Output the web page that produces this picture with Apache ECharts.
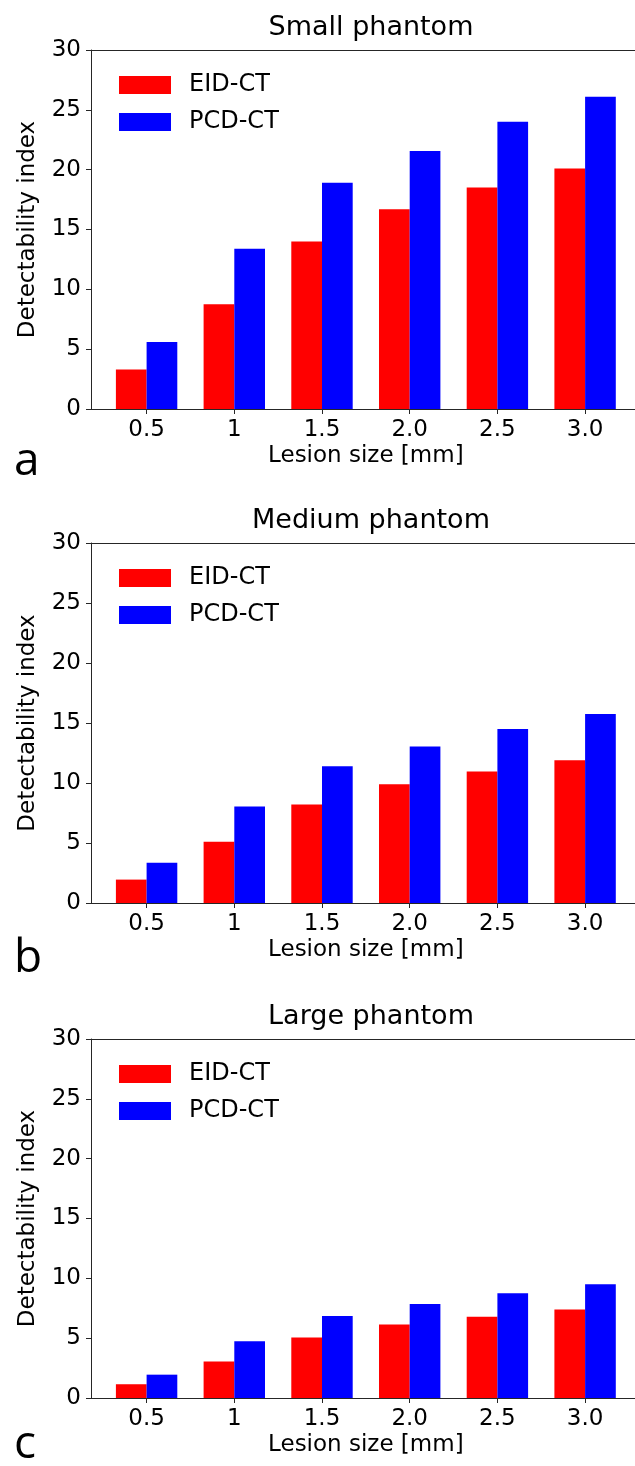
<!DOCTYPE html>
<html>
<head>
<meta charset="utf-8">
<script src="https://cdn.jsdelivr.net/npm/echarts@6/dist/echarts.min.js"></script>
<style>
  html, body { margin: 0; padding: 0; background: #fff; }
  #main_charts { width: 635px; height: 1466px; }
</style>
</head>
<body>
<div id="main_charts"></div>
<script>
  var myChart = echarts.init(document.getElementById('main_charts'));

  // lesion sizes (tick labels) and bar values
  var sizes = ['0.5', '1', '1.5', '2.0', '2.5', '3.0'];
  var panelTitles = ['Small phantom', 'Medium phantom', 'Large phantom'];
  var panelLetters = ['a', 'b', 'c'];
  var eidSmall = [3.3, 8.75, 14.0, 16.7, 18.5, 20.1];
  var pcdSmall = [5.6, 13.4, 18.9, 21.55, 24.0, 26.1];
  var eidMedium = [1.95, 5.1, 8.2, 9.9, 10.95, 11.9];
  var pcdMedium = [3.35, 8.05, 11.4, 13.05, 14.5, 15.75];
  var eidLarge = [1.15, 3.05, 5.05, 6.15, 6.8, 7.4];
  var pcdLarge = [1.95, 4.75, 6.85, 7.85, 8.75, 9.5];

  var eidData = [eidSmall, eidMedium, eidLarge];
  var pcdData = [pcdSmall, pcdMedium, pcdLarge];
  var gridTops = [50, 543, 1039];
  var gridHeights = [359, 360, 359];
  var letterTops = [434, 438, 428];
  var fontName = 'DejaVu Sans';
  var axisColor = '#262626';

  var option = {
    animation: false,
    backgroundColor: '#fff',
    title: [],
    legend: [],
    grid: [],
    xAxis: [],
    yAxis: [],
    series: []
  };

  function spine(gridIdx, pos) {
    return {
      type: 'value', gridIndex: gridIdx, position: pos, min: 0, max: 1,
      axisLine: { show: true, onZero: false, lineStyle: { color: axisColor, width: 1 } },
      axisTick: { show: false }, axisLabel: { show: false }, splitLine: { show: false }
    };
  }

  for (var p = 0; p < 3; p++) {
    var gTop = gridTops[p];
    var gH = gridHeights[p];
    var gFrame = p * 2, gBars = p * 2 + 1;

    option.title.push({
      text: panelTitles[p],
      left: 366,
      top: gTop - 41,
      textAlign: 'center',
      textStyle: { fontFamily: fontName, fontSize: 27, fontWeight: 'normal', color: '#000' }
    });
    option.title.push({
      text: panelLetters[p],
      left: 9,
      top: gTop + letterTops[p] - 50,
      textStyle: { fontFamily: 'Open Sans', fontSize: 46, fontWeight: 'normal', color: '#000' }
    });
    option.legend.push({
      data: ['EID-CT', 'PCD-CT'],
      orient: 'vertical',
      left: 114,
      top: gTop + 18,
      itemWidth: 52,
      itemHeight: 18,
      itemGap: 13,
      icon: 'rect',
      selectedMode: false,
      textStyle: { fontFamily: fontName, fontSize: 24, color: '#000', padding: [0, 0, 0, 13] }
    });

    // frame grid: carries the spines and the y axis, runs off the right edge
    option.grid.push({
      left: 91, right: 0, top: gTop, height: gH
    });
    // bar grid: one band per lesion size
    option.grid.push({
      left: 102.75, width: 526.2, top: gTop, height: gH
    });

    option.xAxis.push(spine(gFrame, 'bottom'));
    option.xAxis.push({
      type: 'category',
      gridIndex: gBars,
      data: sizes,
      name: 'Lesion size [mm]',
      nameLocation: 'middle',
      nameGap: 36,
      nameTextStyle: { fontFamily: fontName, fontSize: 23, color: '#000' },
      axisLine: { show: false },
      axisTick: { show: true, length: 5, alignWithLabel: true, lineStyle: { color: axisColor } },
      axisLabel: { margin: 10, fontFamily: fontName, fontSize: 23, color: '#000' },
      splitLine: { show: false }
    });

    option.yAxis.push({
      type: 'value',
      gridIndex: gFrame,
      min: 0, max: 30, interval: 5,
      name: 'Detectability index',
      nameLocation: 'middle',
      nameGap: 51,
      nameTextStyle: { fontFamily: fontName, fontSize: 23, color: '#000' },
      axisLine: { show: true, lineStyle: { color: axisColor, width: 1 } },
      axisTick: { show: true, length: 5, lineStyle: { color: axisColor } },
      axisLabel: { margin: 10, fontFamily: fontName, fontSize: 23, color: '#000' },
      splitLine: { show: false }
    });
    option.yAxis.push({
      type: 'value', gridIndex: gBars, show: false, min: 0, max: 30, interval: 5,
      splitLine: { show: false }
    });

    option.series.push({
      name: 'EID-CT',
      type: 'bar',
      xAxisIndex: gBars,
      yAxisIndex: gBars,
      barWidth: 30.7,
      barGap: '0%',
      itemStyle: { color: '#ff0000' },
      data: eidData[p]
    });
    option.series.push({
      name: 'PCD-CT',
      type: 'bar',
      xAxisIndex: gBars,
      yAxisIndex: gBars,
      barWidth: 30.7,
      barGap: '0%',
      itemStyle: { color: '#0000ff' },
      data: pcdData[p]
    });
  }

  // top spines go on extra x axes after the per-panel ones
  for (var q = 0; q < 3; q++) {
    option.xAxis.push(spine(q * 2, 'top'));
  }

  myChart.setOption(option);
</script>
</body>
</html>
